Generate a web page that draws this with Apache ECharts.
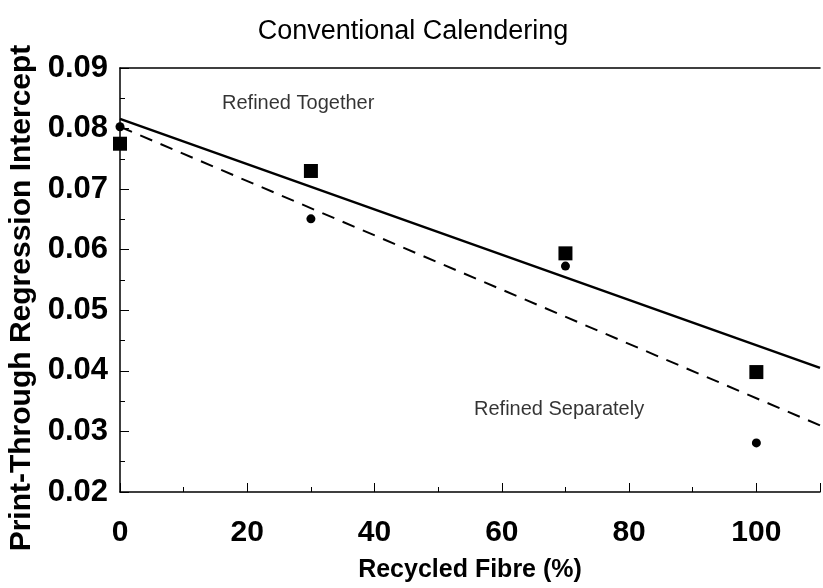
<!DOCTYPE html>
<html>
<head>
<meta charset="utf-8">
<script src="https://cdn.jsdelivr.net/npm/echarts@6/dist/echarts.min.js"></script>
<style>
  html, body { margin: 0; padding: 0; background: #fff; }
  #chart { width: 823px; height: 588px; }
</style>
</head>
<body>
<div id="chart"></div>
<script>
// Recycled fibre content (%) at which each furnish was tested
const fibrePct = [0, 30, 70, 100];
// Print-through regression intercept, fibres refined together (squares)
const refinedTogether = [0.0775, 0.0730, 0.0594, 0.0398];
// Print-through regression intercept, fibres refined separately (circles)
const refinedSeparately = [0.0803, 0.0651, 0.0573, 0.0281];
// Fitted trend lines, given by their end points [x, y]
const fitTogether = [[0, 0.0816], [110, 0.0405]];
const fitSeparately = [[0, 0.0803], [110, 0.0310]];
// Axis tick labels
const xTickLabels = [0, 20, 40, 60, 80, 100];
const yTickLabels = [0.02, 0.03, 0.04, 0.05, 0.06, 0.07, 0.08, 0.09];
// Annotation texts and where they sit in data units
const notes = [
  { text: 'Refined Together', at: [28, 0.0842] },
  { text: 'Refined Separately', at: [69, 0.0336] }
];

const FONT = '"Liberation Sans", Arial, Helvetica, sans-serif';

const chart = echarts.init(document.getElementById('chart'), null, { renderer: 'canvas' });

const pairs = (xs, ys) => xs.map((x, i) => [x, ys[i]]);

chart.setOption({
  animation: false,
  backgroundColor: '#ffffff',
  title: {
    text: 'Conventional Calendering',
    left: 408,
    textAlign: 'center',
    top: 13,
    textStyle: { fontFamily: FONT, fontSize: 27, fontWeight: 'normal', color: '#000' }
  },
  graphic: [
    {
      type: 'text',
      rotation: Math.PI / 2,
      originX: 0,
      originY: 0,
      style: {
        text: 'Print-Through Regression Intercept',
        x: 0, y: 0,
        font: 'bold 30px ' + FONT,
        fill: '#000',
        textAlign: 'center',
        textVerticalAlign: 'middle'
      },
      x: 22,
      y: 298
    }
  ],
  grid: { left: 120, top: 68, right: 1, bottom: 71, containLabel: false },
  xAxis: [
    {
      type: 'value',
      min: 0,
      max: 110,
      interval: 20,
      name: 'Recycled Fibre (%)',
      nameLocation: 'middle',
      nameGap: 66,
      nameTextStyle: { fontFamily: FONT, fontSize: 25, fontWeight: 'bold', color: '#000' },
      axisLine: { show: true, lineStyle: { color: '#000', width: 1.5 } },
      axisTick: { show: true, inside: true, length: 9, lineStyle: { color: '#000', width: 1 } },
      minorTick: { show: true, splitNumber: 2, length: 5, lineStyle: { color: '#000', width: 1 } },
      splitLine: { show: false },
      axisLabel: {
        margin: 26,
        fontFamily: FONT, fontSize: 30, fontWeight: 'bold', color: '#000',
        formatter: v => (xTickLabels.indexOf(v) >= 0 ? String(v) : '')
      }
    },
    {
      type: 'value',
      position: 'top',
      min: 0,
      max: 110,
      axisLine: { show: true, lineStyle: { color: '#000', width: 1.5 } },
      axisTick: { show: false },
      axisLabel: { show: false },
      splitLine: { show: false }
    }
  ],
  yAxis: {
    type: 'value',
    min: 0.02,
    max: 0.09,
    interval: 0.01,
    axisLine: { show: true, lineStyle: { color: '#000', width: 1.5 } },
    axisTick: { show: true, inside: true, length: 9, lineStyle: { color: '#000', width: 1 } },
    minorTick: { show: true, splitNumber: 2, length: 5, lineStyle: { color: '#000', width: 1 } },
    splitLine: { show: false },
    axisLabel: {
      margin: 12,
      fontFamily: FONT, fontSize: 31, fontWeight: 'bold', color: '#000',
      formatter: v => {
        const hit = yTickLabels.find(t => Math.abs(t - v) < 1e-9);
        return hit !== undefined ? hit.toFixed(2) : '';
      }
    }
  },
  series: [
    {
      name: 'Refined Together fit',
      type: 'line',
      data: fitTogether,
      symbol: 'none',
      lineStyle: { color: '#000', width: 2.5, type: 'solid' },
      z: 2
    },
    {
      name: 'Refined Separately fit',
      type: 'line',
      data: fitSeparately,
      symbol: 'none',
      lineStyle: { color: '#000', width: 2, type: [13, 9] },
      z: 2
    },
    {
      name: 'Refined Together',
      type: 'scatter',
      data: pairs(fibrePct, refinedTogether),
      symbol: 'rect',
      symbolSize: 14,
      itemStyle: { color: '#000', opacity: 1 },
      z: 3
    },
    {
      name: 'Refined Separately',
      type: 'scatter',
      data: pairs(fibrePct, refinedSeparately),
      symbol: 'circle',
      symbolSize: 9,
      itemStyle: { color: '#000', opacity: 1 },
      z: 3
    },
    {
      name: 'notes',
      type: 'scatter',
      symbolSize: 0,
      data: notes.map(n => ({ value: n.at, name: n.text })),
      label: {
        show: true,
        position: 'inside',
        formatter: p => p.name,
        fontFamily: FONT, fontSize: 20, color: '#000'
      },
      silent: true,
      z: 4
    }
  ]
});
</script>
</body>
</html>
